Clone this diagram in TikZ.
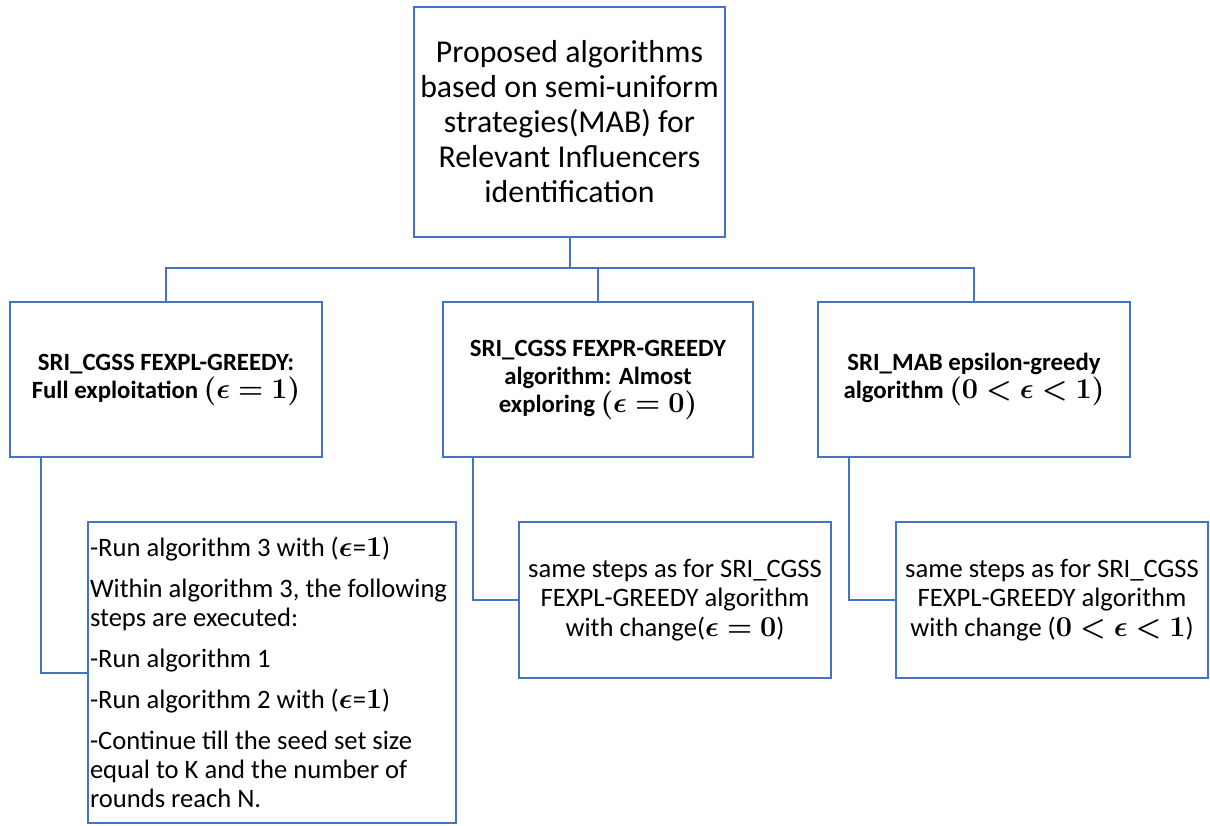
\documentclass[tikz,border=0pt]{standalone}
\usepackage{amsmath}
\usepackage{fontspec}
\usepackage{bm}
\setmainfont{Carlito}
\usetikzlibrary{positioning}
\definecolor{linkblue}{HTML}{4472C4}
\newcommand{\bmath}[1]{{\fontsize{13.3}{14}\selectfont$\bm{#1}$}}

\begin{document}
\begin{tikzpicture}[x=0.5pt,y=-0.5pt,
  topbox/.style={rectangle,draw=linkblue,line width=1pt,minimum width=155.5pt,
                 minimum height=115pt,align=center,inner sep=2pt,
                 font=\fontsize{15.9}{17.5}\selectfont},
  box/.style={rectangle,draw=linkblue,line width=1pt,minimum width=156pt,
              minimum height=77.5pt,align=center,inner sep=2pt,
              font=\fontsize{12.4}{14}\selectfont\bfseries},
  note/.style={rectangle,draw=linkblue,line width=1pt,minimum width=156pt,
               minimum height=78pt,align=center,inner sep=2pt,
               font=\fontsize{13.3}{14.6}\selectfont},
  link/.style={draw=linkblue,line width=1pt}
]
\useasboundingbox (0,0) rectangle (1210,825);
\node[topbox] (top) at (569.5,122) {Proposed algorithms\\based on semi-uniform\\strategies(MAB) for\\Relevant Influencers\\identification};
\node[box] (fexpl) at (166,379.5) {SRI\_CGSS FEXPL-GREEDY:\\Full exploitation \bmath{(\epsilon = 1)}};
\node[box,minimum width=155pt] (fexpr) at (598,379.5) {SRI\_CGSS FEXPR-GREEDY\\algorithm: Almost\\exploring \bmath{(\epsilon = 0)}};
\node[box] (mab) at (974,379.5) {SRI\_MAB epsilon-greedy\\algorithm \bmath{(0 < \epsilon < 1)}};
\node[note,minimum height=150.5pt,text width=182pt,align=flush left,inner xsep=1pt,
      font=\fontsize{13.3}{14.5}\selectfont] (steps) at (272,672.5)
  {-Run algorithm 3 with (\bmath{\epsilon}=\bmath{1})\\[6pt]
   Within algorithm 3, the following\\steps are executed:\\[6pt]
   -Run algorithm 1\\[6pt]
   -Run algorithm 2 with (\bmath{\epsilon}=\bmath{1})\\[6pt]
   -Continue till the seed set size\\equal to K and the number of\\rounds reach N.};
\node[note] (same0) at (675,600) {same steps as for SRI\_CGSS\\FEXPL-GREEDY algorithm\\with change(\bmath{\epsilon = 0})};
\node[note] (same1) at (1052,600) {same steps as for SRI\_CGSS\\FEXPL-GREEDY algorithm\\with change (\bmath{0 < \epsilon < 1})};
% tree
\coordinate (bus) at (569.5,268);
\draw[link] (top.south) -- (bus);
\draw[link] (fexpl.north) |- (bus) -| (mab.north);
\draw[link] (fexpr.north) -- (fexpr.north |- bus);
\draw[link] ([xshift=16pt]fexpl.south west) |- (steps.west);
\draw[link] ([xshift=15.5pt]fexpr.south west) |- (same0.west);
\draw[link] ([xshift=16pt]mab.south west) |- (same1.west);
\end{tikzpicture}
\end{document}
